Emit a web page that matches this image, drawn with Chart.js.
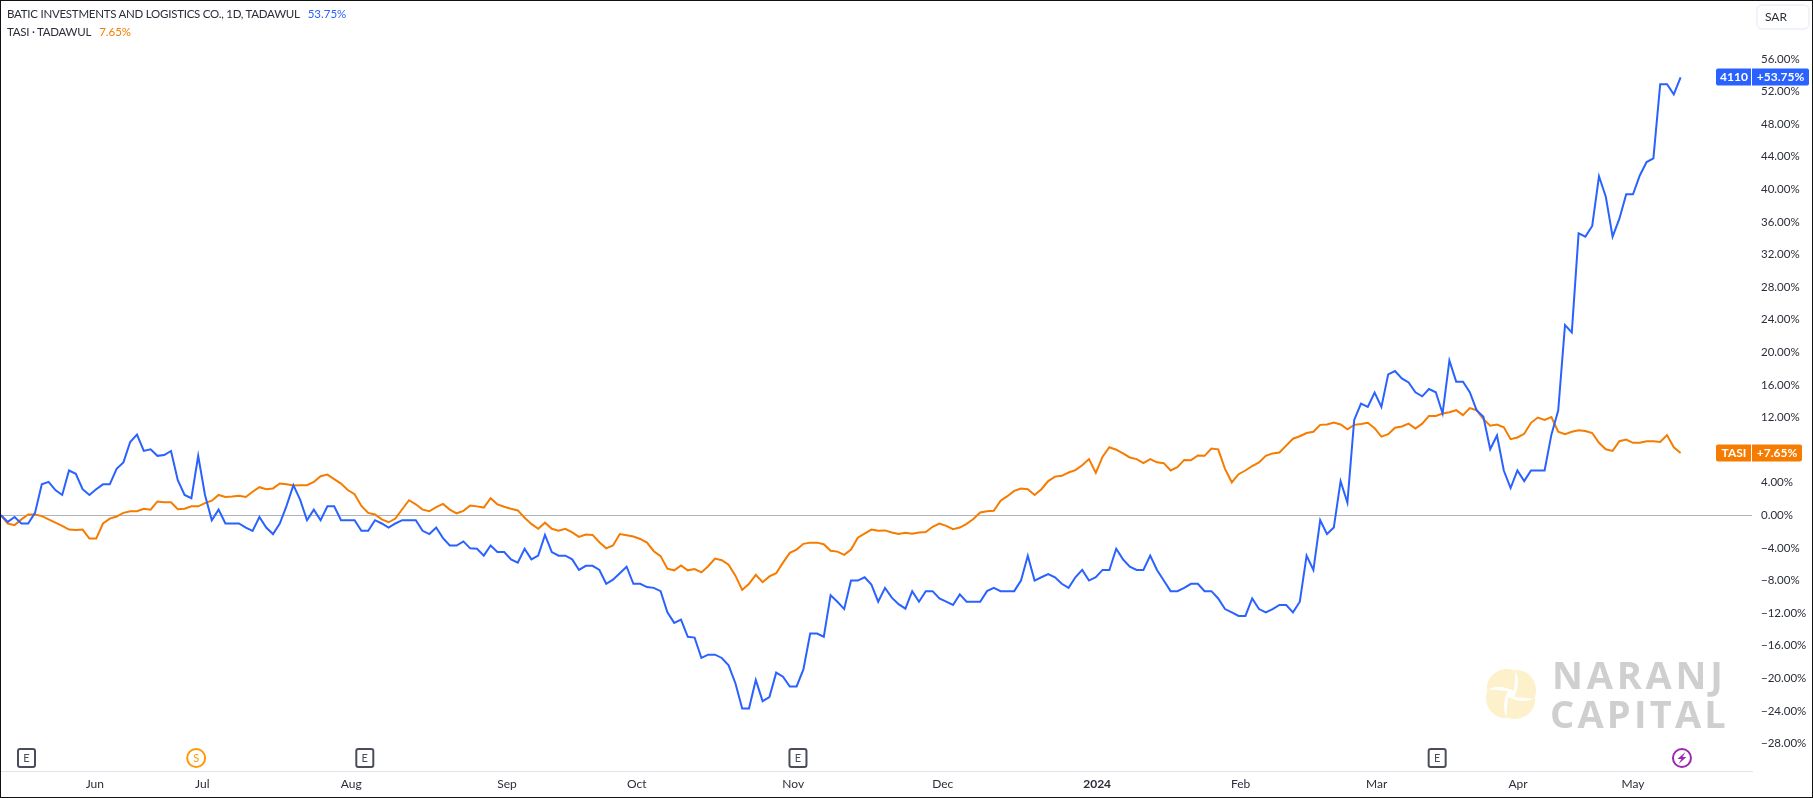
<!DOCTYPE html>
<html>
<head>
<meta charset="utf-8">
<title>BATIC vs TASI</title>
<script src="https://cdn.jsdelivr.net/npm/chart.js@4"></script>
<style>
  html, body { margin: 0; padding: 0; background: #fff; overflow: hidden; }
  #wrap { position: relative; width: 1813px; height: 798px; font-family: Lato, sans-serif; color: #2a2e39; }
  #frame { position: absolute; inset: 0; border: 1px solid #111; box-sizing: border-box; pointer-events: none; }
  .legend { position: absolute; left: 7px; font-size: 11.5px; letter-spacing: -0.25px; line-height: 16px; white-space: nowrap; }
  .legend span { margin-left: 8px; letter-spacing: 0; }
  #sar { position: absolute; left: 1756px; top: 4px; width: 54px; height: 26px; box-sizing: border-box;
    border: 2px solid #f0f3fa; border-radius: 6px; font-size: 12px; line-height: 22px; padding-left: 7px; }
  #mark { position: absolute; left: 1486px; top: 669px; width: 50px; height: 50px; }
  .brand { position: absolute; font-family: "Open Sans", sans-serif; font-weight: 700; font-size: 38px;
    line-height: 38px; color: #cfcfcf; white-space: nowrap; }
</style>
</head>
<body>
<div id="wrap">
  <canvas id="compareChart" width="1813" height="798"></canvas>
  <div class="legend" style="top:6px">BATIC INVESTMENTS AND LOGISTICS CO., 1D, TADAWUL<span style="color:#2962ff">53.75%</span></div>
  <div class="legend" style="top:24px">TASI · TADAWUL<span style="color:#f57c00">7.65%</span></div>
  <div id="sar">SAR</div>
  <svg id="mark" viewBox="-25 -25 50 50">
    <g fill="#fdf1cc">
      <path d="M4 -24 C16 -25 25 -15 25 -4 C25 0 24 3 23 5 C19 4 11 4 3 3 C8 -7 8 -17 4 -24 Z"/>
      <path d="M4 -24 C16 -25 25 -15 25 -4 C25 0 24 3 23 5 C19 4 11 4 3 3 C8 -7 8 -17 4 -24 Z" transform="rotate(90)"/>
      <path d="M4 -24 C16 -25 25 -15 25 -4 C25 0 24 3 23 5 C19 4 11 4 3 3 C8 -7 8 -17 4 -24 Z" transform="rotate(180)"/>
      <path d="M4 -24 C16 -25 25 -15 25 -4 C25 0 24 3 23 5 C19 4 11 4 3 3 C8 -7 8 -17 4 -24 Z" transform="rotate(270)"/>
    </g>
  </svg>
  <div class="brand" style="left:1552px;top:655px;letter-spacing:3.8px">NARANJ</div>
  <div class="brand" style="left:1550px;top:694px;letter-spacing:3.2px">CAPITAL</div>
  <div id="frame"></div>
</div>
<script>
// percent change per trading day
const batic = [
  0, -0.8, -0.2, -1, -1, 0.3, 3.8, 4.1, 3.1, 2.5,
  5.5, 5.1, 3.2, 2.5, 3.2, 3.8, 3.8, 5.7, 6.5, 9,
  9.9, 7.9, 8.1, 7.3, 7.4, 7.9, 4.3, 2.5, 2.1, 7.3,
  2.5, -0.6, 0.7, -1, -1, -1, -1.5, -1.9, -0.2, -1.5,
  -2.3, -1, 1.2, 3.7, 1.9, -0.6, 0.7, -0.6, 1.1, 1.1,
  -0.6, -0.6, -0.6, -1.9, -1.9, -0.6, -1, -1.5, -1, -0.6,
  -0.6, -0.6, -1.9, -2.3, -1.5, -2.8, -3.7, -3.7, -3.2, -4.05,
  -4.1, -4.95, -3.7, -4.5, -4.5, -5.4, -5.8, -4.1, -5.4, -4.95,
  -2.4, -4.5, -4.95, -4.95, -5.4, -6.7, -6.2, -6.2, -6.7, -8.4,
  -7.9, -7.1, -6.3, -8.4, -8.4, -8.8, -8.9, -9.3, -11.9, -13.2,
  -12.8, -14.9, -15, -17.5, -17.1, -17.1, -17.5, -18.4, -20.6, -23.7,
  -23.7, -20.2, -22.8, -22.3, -19.3, -19.8, -21, -21, -18.9, -14.5,
  -14.5, -14.9, -9.8, -10.6, -11.5, -8, -8, -7.6, -8.5, -10.6,
  -8.9, -10.1, -10.9, -11.45, -9.3, -10.6, -9.3, -9.3, -10.2, -10.6,
  -11, -9.7, -10.6, -10.6, -10.6, -9.3, -8.9, -9.3, -9.3, -9.3,
  -8, -4.95, -8, -7.6, -7.2, -7.6, -8.4, -8.9, -7.6, -6.7,
  -8, -7.6, -6.7, -6.7, -4.1, -5.4, -6.3, -6.7, -6.7, -4.95,
  -6.7, -8, -9.3, -9.3, -8.9, -8.4, -8.4, -9.3, -9.3, -10.2,
  -11.5, -11.9, -12.35, -12.35, -10.2, -11.5, -11.9, -11.5, -11, -11,
  -11.9, -10.6, -4.95, -6.7, -0.6, -2.3, -1.5, 4.2, 1.55, 11.7,
  13.7, 13.3, 15.05, 13.3, 17.3, 17.7, 16.8, 16.3, 15.1, 14.6,
  15.5, 15.1, 12.5, 19, 16.4, 16.4, 15.1, 12.9, 12.1, 8.1,
  9.8, 5.5, 3.35, 5.5, 4.2, 5.5, 5.5, 5.5, 9.9, 12.85,
  23.35, 22.45, 34.6, 34.2, 35.5, 41.6, 39.1, 34.2, 36.4, 39.4,
  39.4, 41.7, 43.35, 43.8, 52.9, 52.9, 51.65, 53.75,
];

const tasi = [
  0, -1, -1.2, -0.5, 0.1, 0.1, -0.1, -0.5, -0.9, -1.3,
  -1.75, -1.8, -1.75, -2.85, -2.85, -1, -0.4, -0.15, 0.3, 0.5,
  0.5, 0.8, 0.7, 1.7, 1.6, 1.6, 0.75, 0.8, 1.1, 1.1,
  1.5, 1.8, 2.5, 2.25, 2.3, 2.4, 2.25, 2.9, 3.45, 3.2,
  3.3, 3.9, 3.8, 3.65, 3.7, 3.7, 4.1, 4.8, 5, 4.45,
  3.9, 3.1, 2.6, 1.15, 0.3, 0.1, -0.5, -0.85, -0.4, 0.75,
  1.85, 1.35, 0.7, 0.5, 1, 1.4, 0.7, 0.25, 0.55, 1.2,
  1.1, 0.95, 2.1, 1.35, 1.05, 0.8, 0.6, -0.3, -1.05, -1.65,
  -0.9, -1.65, -1.9, -1.65, -2.1, -2.65, -2.35, -2.4, -3.3, -4.05,
  -3.7, -2.3, -2.45, -2.6, -2.9, -3.35, -4.4, -5, -6.55, -6.75,
  -6.15, -6.75, -6.6, -7, -6.25, -5.3, -5.5, -6.05, -7.4, -9.15,
  -8.4, -7.3, -8.2, -7.5, -7.1, -5.8, -4.6, -4.2, -3.5, -3.35,
  -3.35, -3.55, -4.35, -4.45, -4.85, -4.2, -2.75, -2.25, -1.75, -1.9,
  -1.85, -2.1, -2.3, -2.15, -2.25, -2.1, -2.05, -1.4, -1, -1.3,
  -1.7, -1.5, -1.05, -0.45, 0.35, 0.5, 0.55, 1.8, 2.35, 3,
  3.3, 3.2, 2.5, 3.2, 4.2, 4.75, 4.85, 5.25, 5.55, 6.15,
  6.9, 5.2, 7.2, 8.35, 8.05, 7.6, 7.1, 6.9, 6.4, 6.9,
  6.5, 6.4, 5.5, 5.9, 6.8, 6.75, 7.35, 7.3, 8.2, 8.1,
  5.7, 4.05, 5.05, 5.5, 6.05, 6.5, 7.3, 7.6, 7.7, 8.55,
  9.4, 9.7, 10.1, 10.25, 11.1, 11.15, 11.4, 11.15, 10.55, 11.1,
  11.2, 11.35, 10.7, 9.65, 9.95, 10.75, 10.9, 11.25, 10.65, 11.25,
  12.2, 12.2, 12.5, 12.65, 12.9, 12.3, 13.15, 12.9, 11.8, 11,
  11.15, 10.8, 9.35, 9.55, 10, 11.35, 12, 11.7, 12.05, 10.25,
  9.95, 10.25, 10.45, 10.35, 10.1, 8.9, 8.1, 7.9, 9.1, 9.3,
  8.9, 8.9, 9.1, 9.1, 9, 9.85, 8.35, 7.65,
];

const monthLabels = ["Jun", "Jul", "Aug", "Sep", "Oct", "Nov", "Dec", "2024", "Feb", "Mar", "Apr", "May"];
const monthDays = [13.8, 29.6, 51.5, 74.4, 93.5, 116.5, 138.5, 161.2, 182.3, 202.3, 223.1, 240];
const percentTicks = [56, 52, 48, 44, 40, 36, 32, 28, 24, 20, 16, 12, 8, 4, 0, -4, -8, -12, -16, -20, -24, -28];

const eventLabels = ["E", "S", "E", "E", "E", "bolt"];
const eventDays = [3.75, 28.7, 53.5, 117.2, 211.2, 247.2];

const BLUE = "#2962ff";
const ORANGE = "#f57c00";

function pct(v) {
  return (v < 0 ? "\u2212" : "") + Math.abs(v).toFixed(2) + "%";
}

// price tags on the right axis, placed on the last value of each series
const lastValueTags = {
  id: "lastValueTags",
  afterDraw(chart) {
    const c = chart.ctx;
    const y = chart.scales.y;
    const drawTag = (sym, val, color, rightEdge) => {
      const yPos = Math.round(y.getPixelForValue(val));
      c.save();
      c.fillStyle = color;
      c.beginPath();
      c.roundRect(chart.chartArea.right - 36, yPos - 8.5, 35, 17, [2, 0, 0, 2]);
      c.fill();
      c.beginPath();
      c.roundRect(chart.chartArea.right, yPos - 8.5, rightEdge, 17, [0, 2, 2, 0]);
      c.fill();
      c.fillStyle = "#fff";
      c.font = "bold 12px Lato, sans-serif";
      c.textBaseline = "middle";
      c.textAlign = "center";
      c.fillText(sym, chart.chartArea.right - 18, yPos + 0.5);
      c.fillText((val > 0 ? "+" : "") + pct(val), chart.chartArea.right + rightEdge / 2, yPos + 0.5);
      c.restore();
    };
    drawTag("4110", batic[batic.length - 1], BLUE, 57);
    drawTag("TASI", tasi[tasi.length - 1], ORANGE, 50);
  },
};

// the E / S / bolt markers sitting above the time axis
const eventMarkers = {
  id: "eventMarkers",
  afterDraw(chart) {
    const c = chart.ctx;
    const x = chart.scales.x;
    const cy = 758;
    eventLabels.forEach((lab, i) => {
      const cx = x.getPixelForValue(eventDays[i]);
      c.save();
      c.lineWidth = 2;
      c.textAlign = "center";
      c.textBaseline = "middle";
      c.font = "11px Lato, sans-serif";
      if (lab === "E") {
        c.strokeStyle = "#4a4e5c";
        c.beginPath();
        c.roundRect(cx - 8.5, cy - 9, 17, 18, 2);
        c.stroke();
        c.fillStyle = "#4a4e5c";
        c.fillText(lab, cx, cy + 0.5);
      } else {
        const col = lab === "S" ? "#ff9800" : "#9c27b0";
        c.strokeStyle = col;
        c.fillStyle = col;
        c.beginPath();
        c.arc(cx, cy, 9, 0, Math.PI * 2);
        c.stroke();
        if (lab === "S") {
          c.fillText(lab, cx, cy + 0.5);
        } else {
          c.beginPath();
          c.moveTo(cx + 3.5, cy - 6);
          c.lineTo(cx - 4.5, cy + 1);
          c.lineTo(cx - 0.5, cy + 1);
          c.lineTo(cx - 3.5, cy + 6);
          c.lineTo(cx + 4.5, cy - 1);
          c.lineTo(cx + 0.5, cy - 1);
          c.closePath();
          c.fill();
        }
      }
      c.restore();
    });
  },
};

const ctx = document.getElementById("compareChart").getContext("2d");
new Chart(ctx, {
  type: "line",
  data: {
    datasets: [
      {
        label: "4110",
        data: batic.map((v, i) => ({ x: i, y: v })),
        borderColor: BLUE,
        borderWidth: 2,
        pointRadius: 0,
        tension: 0,
      },
      {
        label: "TASI",
        data: tasi.map((v, i) => ({ x: i, y: v })),
        borderColor: ORANGE,
        borderWidth: 2,
        pointRadius: 0,
        tension: 0,
      },
    ],
  },
  options: {
    responsive: false,
    animation: false,
    layout: { padding: 0 },
    plugins: { legend: { display: false }, tooltip: { enabled: false } },
    scales: {
      x: {
        type: "linear",
        min: -0.147,
        max: 257.5,
        afterBuildTicks: (scale) => {
          scale.ticks = monthDays.map((d) => ({ value: d }));
        },
        afterFit: (scale) => {
          scale.height = 27;
        },
        grid: { display: false, drawTicks: false },
        border: { display: true, color: "#e0e3eb", width: 1 },
        ticks: {
          autoSkip: false,
          maxRotation: 0,
          padding: 6,
          color: "#2a2e39",
          font: (c) => ({
            family: "Lato, sans-serif",
            size: 12,
            weight: c.tick && monthLabels[monthDays.indexOf(c.tick.value)] === "2024" ? "bold" : "normal",
          }),
          callback: (v) => monthLabels[monthDays.indexOf(v)],
        },
      },
      y: {
        position: "right",
        min: -31.37,
        max: 63.23,
        afterBuildTicks: (scale) => {
          scale.ticks = percentTicks.map((v) => ({ value: v }));
        },
        // no half-label padding, the plot runs right up to the top edge
        afterFit: (scale) => {
          scale.width = 61;
          scale.paddingTop = 0;
          scale.paddingBottom = 0;
        },
        grid: {
          drawTicks: false,
          color: (c) => (c.tick && c.tick.value === 0 ? "#b2b5be" : "transparent"),
        },
        border: { display: false },
        ticks: {
          padding: 9,
          color: "#2a2e39",
          font: { family: "Lato, sans-serif", size: 11.5 },
          callback: (v) => pct(v),
        },
      },
    },
  },
  plugins: [lastValueTags, eventMarkers],
});
</script>
</body>
</html>
